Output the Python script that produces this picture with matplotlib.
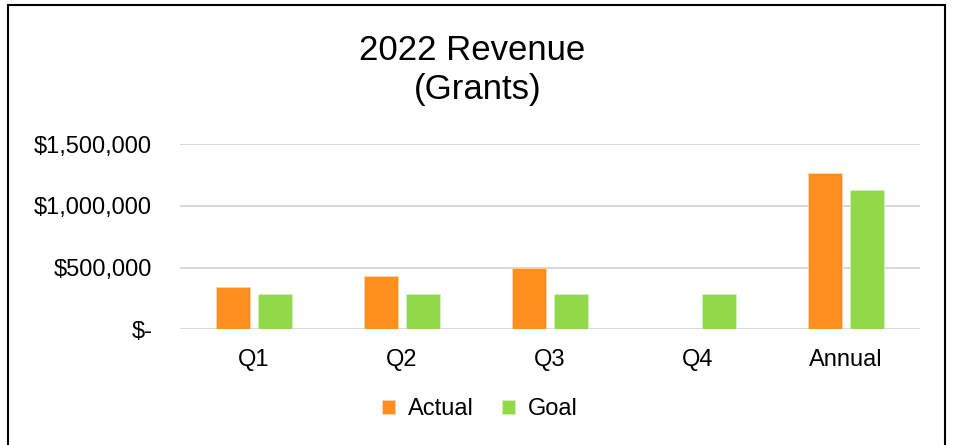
import numpy as np
import matplotlib.pyplot as plt
from matplotlib.patches import Rectangle
from matplotlib.ticker import FuncFormatter

categories = ['Q1', 'Q2', 'Q3', 'Q4', 'Annual']
actual = [340000, 432000, 497000, 0, 1269000]
goal = [283000, 283000, 283000, 283000, 1132000]

plt.rcParams['font.family'] = ['Liberation Sans', 'DejaVu Sans']

fig = plt.figure(figsize=(9.57, 4.45), dpi=100)
ax = fig.add_axes([180 / 957, 1 - 329.3 / 445, 740 / 957, (329.3 - 144.3) / 445])

x = np.arange(len(categories))
w = 0.225
off = 0.142
ax.bar(x - off, actual, w, color='#FF8F1E', edgecolor='#FFD2A8', linewidth=0.6, label='Actual', zorder=3)
ax.bar(x + off, goal, w, color='#92D94A', edgecolor='#D4F0B8', linewidth=0.6, label='Goal', zorder=3)

ax.set_xlim(-0.5, len(categories) - 0.5)
ax.set_ylim(0, 1500000)
ax.set_yticks([0, 500000, 1000000, 1500000])


def money(v, pos):
    if v == 0:
        return '$-'
    return '${:,.0f}'.format(v)


ax.yaxis.set_major_formatter(FuncFormatter(money))
ax.set_xticks(x)
ax.set_xticklabels(categories)
ax.tick_params(axis='both', length=0, labelsize=17, colors='black')
ax.tick_params(axis='x', pad=14)
ax.tick_params(axis='y', pad=20)
ax.grid(axis='y', color='#D9D9D9', linewidth=1.5, zorder=0)
for s in ax.spines.values():
    s.set_visible(False)

fig.text(472 / 957, 1 - 59.5 / 445, '2022 Revenue', ha='center', va='baseline', fontsize=25)
fig.text(478 / 957, 1 - 99 / 445, '(Grants)', ha='center', va='baseline', fontsize=25)

fig.legend(loc='center', bbox_to_anchor=(480 / 957, 1 - 409 / 445), ncol=2, frameon=False,
           fontsize=17, handlelength=0.54, handleheight=0.54, handletextpad=0.55, columnspacing=1.2)

fig.patches.append(Rectangle((8 / 957, -0.05), 937 / 957, 1.05 - 5 / 445, transform=fig.transFigure,
                             fill=False, edgecolor='black', linewidth=1.5))

fig.savefig('out.png', dpi=100)
